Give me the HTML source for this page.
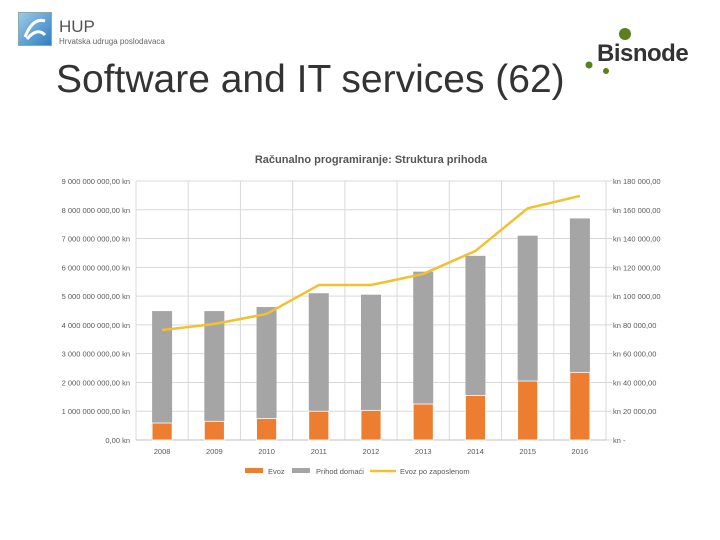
<!DOCTYPE html>
<html><head><meta charset="utf-8"><style>
body{margin:0;width:720px;height:540px;background:#fff;position:relative;overflow:hidden;font-family:"Liberation Sans",sans-serif}
.abs{position:absolute}
</style></head><body>
<div class="abs" style="left:18px;top:12px;width:32px;height:32px;background:linear-gradient(135deg,#9cc9ea,#2f7fc1);border:1px solid #8aa">
<svg width="32" height="32"><path d="M6 24 Q14 4 26 8 M8 26 Q18 14 26 22" stroke="#fff" stroke-width="3" fill="none"/></svg></div>
<div class="abs" style="left:59px;top:17px;font-size:17px;color:#555">HUP</div>
<div class="abs" style="left:59px;top:37px;font-size:8px;color:#666">Hrvatska udruga poslodavaca</div>
<div class="abs" style="left:56px;top:58px;font-size:39px;color:#333;letter-spacing:0px">Software and IT services (62)</div>
<div class="abs" style="left:597px;top:40px;font-size:24px;font-weight:bold;color:#333;letter-spacing:-0.5px">Bisnode</div>
<svg class="abs" style="left:580px;top:25px" width="60" height="55">
<circle cx="45" cy="9" r="6" fill="#5a7f1e"/><circle cx="9" cy="40" r="3.5" fill="#5a7f1e"/><circle cx="26" cy="46" r="3" fill="#5a7f1e"/></svg>
<svg id="chart" class="abs" style="left:0;top:0" width="720" height="540"></svg>
<script>
const years=["2008","2009","2010","2011","2012","2013","2014","2015","2016"];
const evoz=[0.59,0.65,0.75,1.0,1.03,1.25,1.55,2.05,2.35];
const totalRev=[4.48,4.48,4.62,5.1,5.05,5.85,6.4,7.1,7.7];
const evozPerEmp=[76.4,80.6,87.6,107.7,107.7,115.4,131.4,161,169.6];
const leftTicks=["0,00 kn","1 000 000 000,00 kn","2 000 000 000,00 kn","3 000 000 000,00 kn","4 000 000 000,00 kn","5 000 000 000,00 kn","6 000 000 000,00 kn","7 000 000 000,00 kn","8 000 000 000,00 kn","9 000 000 000,00 kn"];
const rightTicks=["kn -","kn 20 000,00","kn 40 000,00","kn 60 000,00","kn 80 000,00","kn 100 000,00","kn 120 000,00","kn 140 000,00","kn 160 000,00","kn 180 000,00"];
const L=136,R=606,T=181,B=440;
const svg=document.getElementById('chart');const NS='http://www.w3.org/2000/svg';
const step=(R-L)/years.length;
const x=i=>L+step*(i+0.5);
const yL=v=>B-(B-T)*v/9;
const yR=v=>B-(B-T)*v/180;
function mk(t,a,p){const e=document.createElementNS(NS,t);for(const k in a)e.setAttribute(k,a[k]);(p||svg).appendChild(e);return e;}
let t=mk('text',{x:(L+R)/2,y:163,'text-anchor':'middle','font-size':11,fill:'#555','font-weight':'bold'});t.textContent='Računalno programiranje: Struktura prihoda';


for(let i=0;i<=9;i++){const yy=yL(i);
const g=mk('line',{x1:L,x2:R+6,y1:yy,y2:yy,stroke:'#d9d9d9','stroke-width':1});


const a=mk('text',{x:L-6,y:yy+3,'text-anchor':'end','font-size':7.5,fill:'#595959'});a.textContent=leftTicks[i];


const b=mk('text',{x:613,y:yy+3,'font-size':7.5,fill:'#595959'});b.textContent=rightTicks[i];

}
for(let i=0;i<=years.length;i++){const xx=L+step*i;const v=mk('line',{x1:xx,x2:xx,y1:T,y2:B,stroke:'#d9d9d9'});

}
mk('line',{x1:L,x2:R,y1:B,y2:B,stroke:'#bfbfbf'});
const bw=20;
years.forEach((yr,i)=>{
const d=mk('rect',{x:x(i)-bw/2,y:yL(totalRev[i]),width:bw,height:yL(evoz[i])-yL(totalRev[i]),fill:'#a5a5a5'});


const e=mk('rect',{x:x(i)-bw/2,y:yL(evoz[i]),width:bw,height:B-yL(evoz[i]),fill:'#ed7d31',stroke:'#fff','stroke-width':0.8});


const l=mk('text',{x:x(i),y:454,'text-anchor':'middle','font-size':7.5,fill:'#595959'});l.textContent=yr;

});
const ln=mk('polyline',{points:evozPerEmp.map((v,i)=>x(i)+','+yR(v)).join(' '),fill:'none',stroke:'#f2c12e','stroke-width':2.5,'stroke-linejoin':'round'});


const lg=[['rect','#ed7d31',245,'Evoz',268],['rect','#a5a5a5',292,'Prihod domaći',316],['line','#f2c12e',370,'Evoz po zaposlenom',400]];
lg.forEach(g=>{const s=g[0]=='rect'?mk('rect',{x:g[2],y:468,width:18,height:5,fill:g[1]}):mk('line',{x1:g[2],x2:g[2]+26,y1:471,y2:471,stroke:g[1],'stroke-width':2.5});


const tt=mk('text',{x:g[4],y:474,'font-size':7.5,fill:'#595959'});tt.textContent=g[3];

});
</script>
</body></html>
